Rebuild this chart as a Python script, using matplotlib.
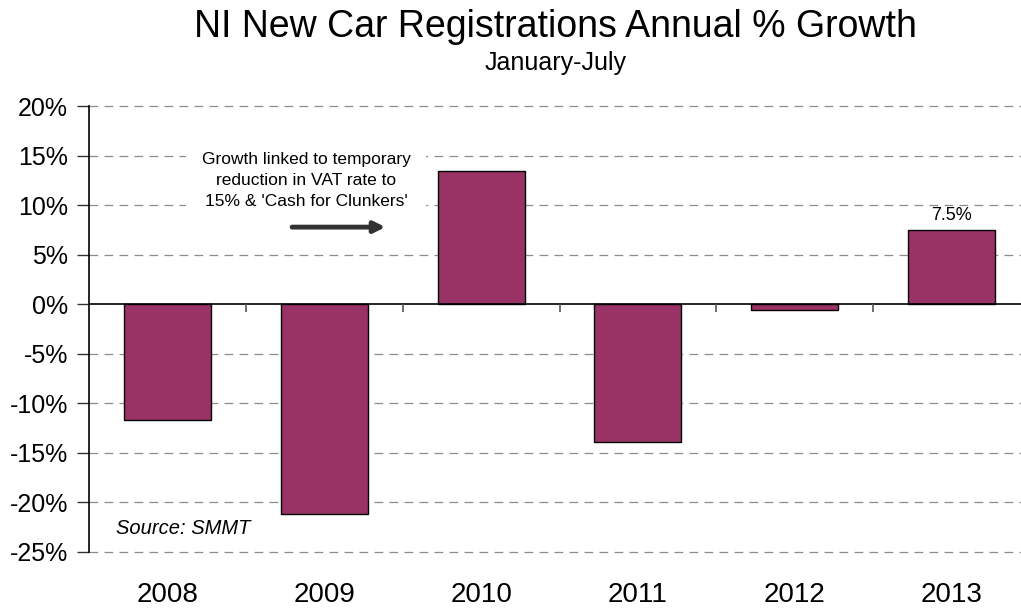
import matplotlib
matplotlib.use("Agg")
import matplotlib.pyplot as plt
import numpy as np

plt.rcParams['font.family'] = ['Liberation Sans', 'DejaVu Sans']

years = ["2008", "2009", "2010", "2011", "2012", "2013"]
growth = [-11.7, -21.2, 13.5, -13.9, -0.6, 7.5]
yticks = [-25, -20, -15, -10, -5, 0, 5, 10, 15, 20]

BAR = "#993366"
GRID = "#8c8c8c"

fig = plt.figure(figsize=(10.21, 6.08), dpi=100)
ax = fig.add_axes([0.0872, 0.0924, 0.9216, 0.7327])

x = np.arange(len(years))
ax.bar(x, growth, width=0.555, color=BAR, edgecolor="black", linewidth=1.0, zorder=3)

ax.set_xlim(-0.5, len(years) - 0.5)
ax.set_ylim(-25, 20)

# gridlines (dashed) except zero
for t in yticks:
    if t != 0:
        ax.axhline(t, color=GRID, lw=0.9, ls=(0, (7, 5)), zorder=1, clip_on=False)
ax.axhline(0, color="black", lw=1.2, zorder=4)

# category boundary marks on the zero line
bounds = np.arange(1, len(years)) - 0.5
ax.vlines(bounds, -0.75, 0, color="#555555", lw=1.2, zorder=4)

ax.set_yticks(yticks)
ax.set_yticklabels(["%d%%" % t for t in yticks], fontsize=18)
ax.tick_params(axis="y", direction="out", length=9, width=1, color="#333333", pad=6)

ax.set_xticks(x)
ax.set_xticklabels(years, fontsize=20)
ax.tick_params(axis="x", length=0, pad=22)

for s in ["top", "right", "bottom"]:
    ax.spines[s].set_visible(False)
ax.spines["left"].set_color("black")
ax.spines["left"].set_linewidth(1.2)

# titles
fig.text(0.544, 0.955, "NI New Car Registrations Annual % Growth", fontsize=27,
         ha="center", va="center")
fig.text(0.544, 0.896, "January-July", fontsize=18, ha="center", va="center")

# annotation (white box hides the gridlines behind it)
ax.text(0.884, 12.55, "Growth linked to temporary\nreduction in VAT rate to\n15% & 'Cash for Clunkers'",
        fontsize=12.5, ha="center", va="center", linespacing=1.5, zorder=2,
        bbox=dict(boxstyle="square,pad=0.9", facecolor="white", edgecolor="none"))
ax.annotate("", xy=(1.39, 7.8), xytext=(0.795, 7.8), zorder=5,
            arrowprops=dict(arrowstyle="-|>", color="#333333", lw=3.5,
                            mutation_scale=16, shrinkA=0, shrinkB=0))

ax.text(x[-1], growth[-1] + 0.6, "7.5%", fontsize=13, ha="center", va="bottom")
ax.text(-0.33, -22.6, "Source: SMMT", fontsize=14.5, style="italic", ha="left", va="center")

fig.savefig("out.png", dpi=100)
